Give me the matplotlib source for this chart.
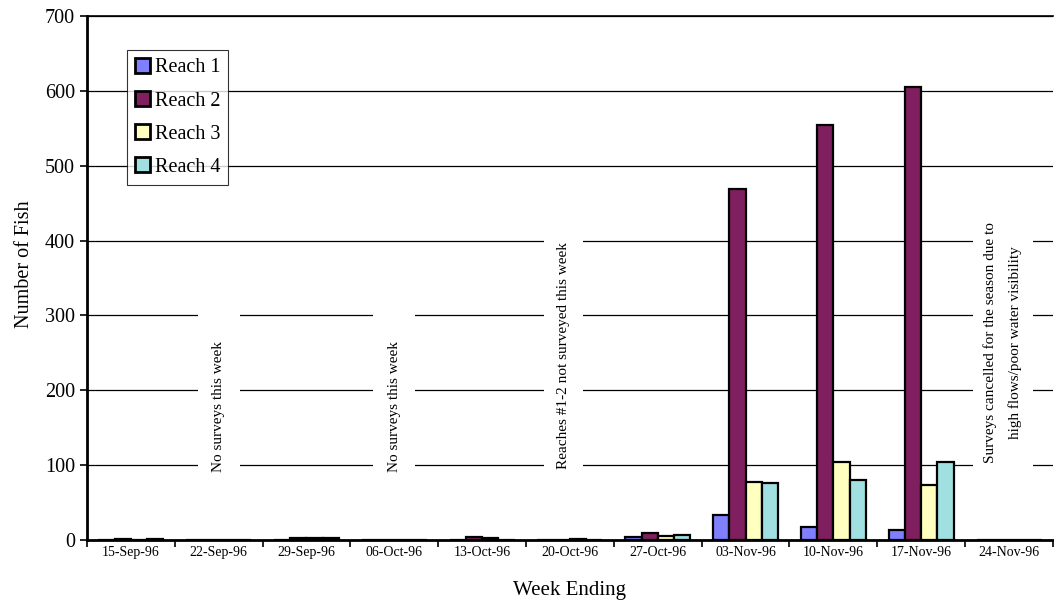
import numpy as np
import matplotlib
matplotlib.use("Agg")
import matplotlib.pyplot as plt
from matplotlib.patches import Rectangle

plt.rcParams['font.family'] = ['Liberation Serif', 'DejaVu Serif']

weeks = ['15-Sep-96', '22-Sep-96', '29-Sep-96', '06-Oct-96', '13-Oct-96', '20-Oct-96',
         '27-Oct-96', '03-Nov-96', '10-Nov-96', '17-Nov-96', '24-Nov-96']
reach1 = [0, 0, 0, 0, 0, 0, 4, 33, 17, 14, 0]
reach2 = [1, 0, 3, 0, 4, 0, 10, 469, 554, 605, 0]
reach3 = [0, 0, 2, 0, 2, 1, 5, 77, 104, 74, 0]
reach4 = [1, 0, 2, 0, 0, 0, 7, 76, 80, 104, 0]
series = [('Reach 1', reach1, '#8080ff'),
          ('Reach 2', reach2, '#801f5f'),
          ('Reach 3', reach3, '#ffffc0'),
          ('Reach 4', reach4, '#a0e0e0')]

# notes: text, x position, y centre, box (x half width, y bottom, y top)
notes = [('No surveys this week', 1.0, 178, 0.24, 60, 330),
         ('No surveys this week', 3.0, 178, 0.24, 60, 330),
         ('Reaches #1-2 not surveyed this week', 4.93, 246, 0.22, 60, 450),
         ('Surveys cancelled for the season due to\nhigh flows/poor water visibility', 9.93, 264, 0.34, 60, 450)]

fig = plt.figure(figsize=(10.54, 6.03), dpi=100)
ax = fig.add_axes([0.0825, 0.1045, 0.9165, 0.869])

x = np.arange(len(weeks))
w = 0.185
for i, (name, vals, col) in enumerate(series):
    ax.bar(x + (i - 1.5) * w, vals, w, color=col, edgecolor='black',
           linewidth=1.6, label=name, zorder=3)

for txt, xc, yc, hw, yb, yt in notes:
    ax.add_patch(Rectangle((xc - hw, yb), 2 * hw, yt - yb, facecolor='white',
                           edgecolor='none', zorder=2))
    ax.text(xc, yc, txt, rotation=90, ha='center', va='center', fontsize=11,
            multialignment='center', zorder=4, linespacing=2.0)

ax.set_xlim(-0.5, len(weeks) - 0.5)
ax.set_ylim(0, 700)
ax.set_yticks(range(0, 701, 100))
ax.yaxis.grid(True, color='black', linewidth=0.9, zorder=1)
ax.set_axisbelow(True)

ax.set_xticks(x)
ax.set_xticklabels(weeks, fontsize=10)
ax.set_xticks(np.arange(-0.5, len(weeks), 1), minor=True)
ax.tick_params(axis='x', which='major', length=0, pad=4)
ax.tick_params(axis='x', which='minor', length=5, width=1.2, direction='out')
ax.tick_params(axis='y', labelsize=14.5, length=5, width=1.2, direction='out')

for s in ['left', 'bottom']:
    ax.spines[s].set_linewidth(2)
ax.spines['top'].set_linewidth(1.2)
ax.spines['right'].set_visible(False)

ax.set_xlabel('Week Ending', fontsize=15, labelpad=16)
ax.set_ylabel('Number of Fish', fontsize=14.5)
ax.yaxis.set_label_coords(-0.055, 0.527)

leg = ax.legend(loc='upper left', bbox_to_anchor=(0.041, 0.935), fontsize=14.5,
                frameon=True, fancybox=False, edgecolor='black',
                handlelength=0.75, handleheight=0.75, handletextpad=0.25,
                borderpad=0.4, labelspacing=0.68, borderaxespad=0)
leg.get_frame().set_linewidth(0.8)
for h in leg.legend_handles:
    h.set_linewidth(2)

fig.savefig('out.png', dpi=100)
